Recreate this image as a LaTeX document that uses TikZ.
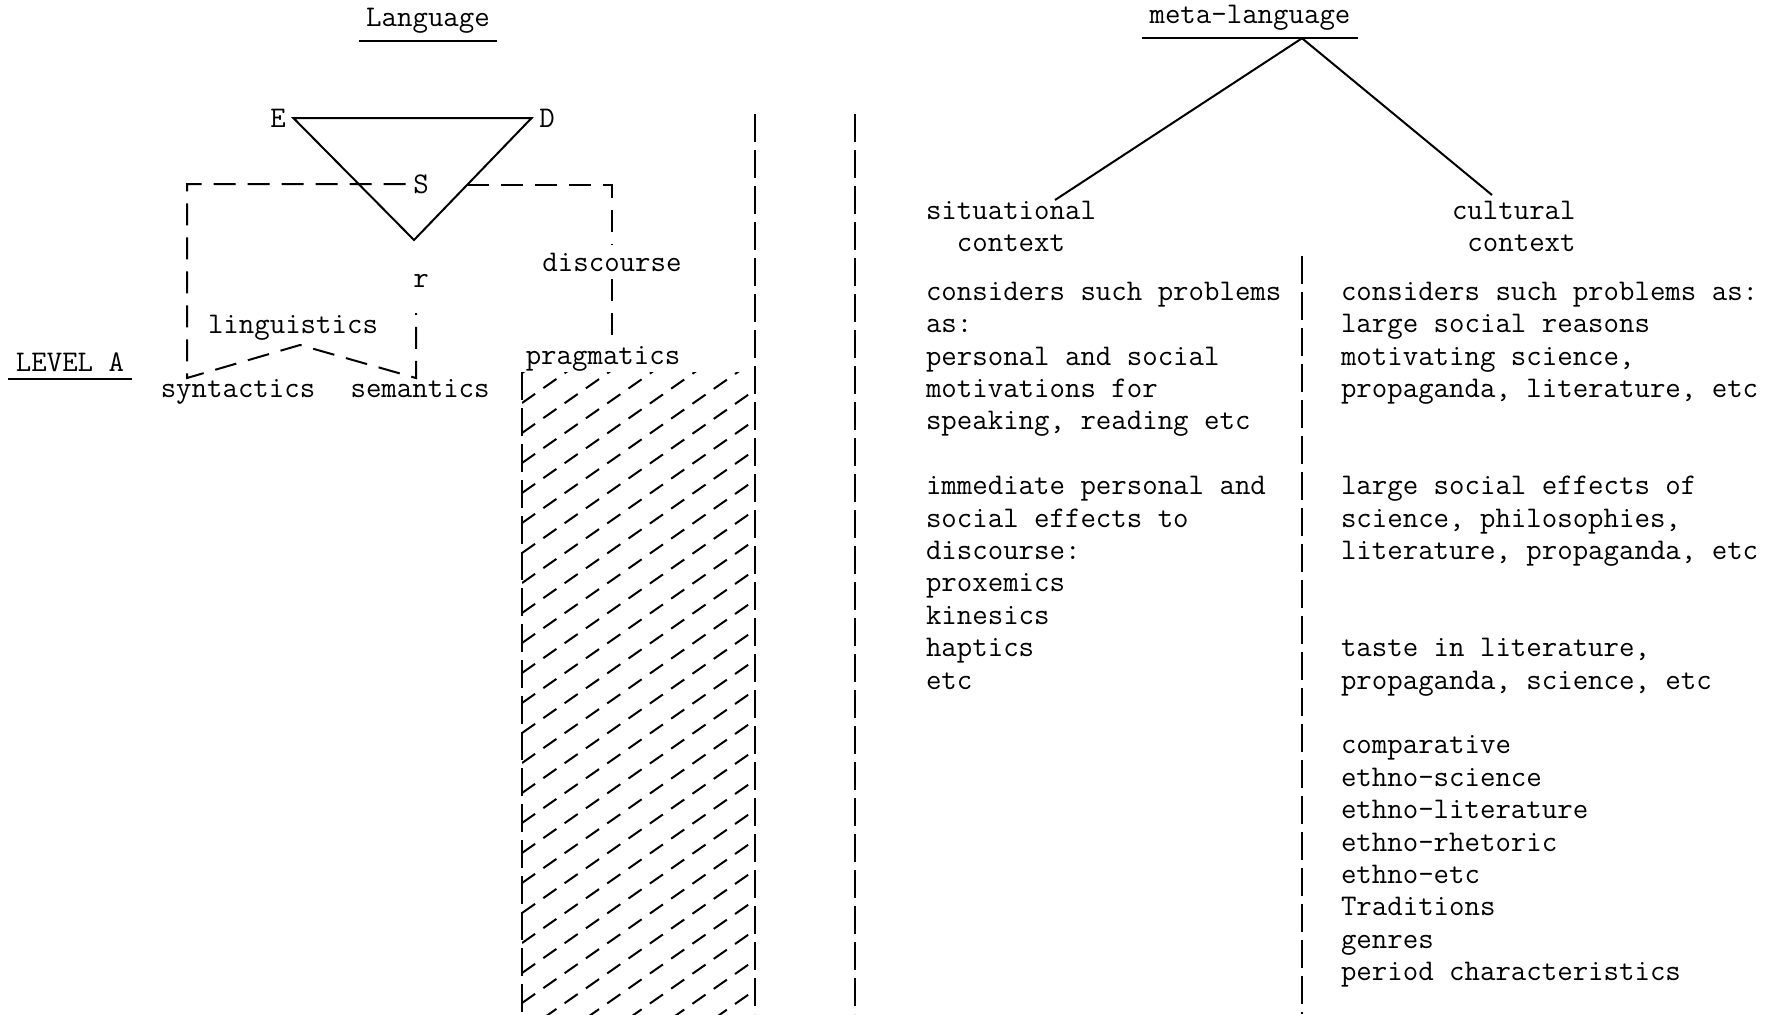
\documentclass[tikz,border=0pt]{standalone}
\usepackage{fontspec}
\usepackage{tikz}
\usetikzlibrary{positioning,calc}

\begin{document}
\begin{tikzpicture}[x=0.5pt,y=-0.5pt,line width=1pt,
  every node/.style={font=\ttfamily\fontsize{15pt}{16.2pt}\selectfont},
  boxline/.style={dash pattern=on 11pt off 6pt},
  colline/.style={dash pattern=on 14pt off 4pt},
  hatchline/.style={dash pattern=on 8pt off 5pt},
  textcol/.style={align=left,anchor=north west,inner sep=0pt}]
\useasboundingbox (0,0) rectangle (1782,1014);

% language side
\node (lang) at (428,21) {Language};
\node (levela) at (70,362) {LEVEL A};
\node (E) at (278,118) {E};
\node (D) at (547,118) {D};
\node (S) at (421,184) {S};
\coordinate (tip) at (414,240);
\coordinate (sr) at (467,185);
\node (r) at (421,281) {r};
\node (ling) at (293,328) {linguistics};
\node (syn) at (238,392) {syntactics};
\node (sem) [base right=10pt of syn] {semantics};
\node (disc) at (612,262) {discourse};
\node (prag) at (603,359) {pragmatics};
\coordinate (bl) at (187,378);
\coordinate (peak) at (300,345);
\coordinate (br) at (416,378);

\draw (lang.south west) -- (lang.south east);
\draw (levela.south west) -- (levela.south east);
\draw (E.east) -- (D.west) -- (tip) -- cycle;
\draw[boxline,shorten >=9pt] (S.west) -| (bl) -- (peak) -- (br) -- (br |- r.south);
\draw[boxline] (sr) -| (disc.north);
\draw[boxline] (disc.south) -- (disc.south |- prag.north);

% hatched pragmatics column
\coordinate (hatchtl) at (522,372);
\coordinate (hatchbr) at (755,1014);
\begin{scope}
  \clip (hatchtl) rectangle (hatchbr);
  \foreach \k in {-1,...,26}
    \draw[hatchline] (522,{403+30*\k}) -- ++(233,-163);
\end{scope}
\draw[colline] (hatchtl) -- (hatchtl |- hatchbr);
\coordinate (langsep) at (755,114);
\coordinate (metasep) at (855,114);
\draw[colline] (langsep) -- (langsep |- hatchbr);
\draw[colline] (metasep) -- (metasep |- hatchbr);

% meta-language side
\node (meta) at (1250,18) {meta-language};
\coordinate (septop) at (1302,256);
\coordinate (apex) at (septop |- meta.south);
\node[textcol] (situ) at (925,200) {situational\\\phantom{xx}context};
\node[textcol] (cult) at (1451,200) {cultural\\\phantom{x}context};
\draw (meta.south west) -- (meta.south east);
\draw (apex) -- ($(situ.north west)+(130,0)$);
\draw (apex) -- ($(cult.north west)+(41,-5)$);
\draw[colline] (septop) -- (septop |- hatchbr);

\node[textcol] (sitlist) at (925,281) {considers such problems\\as:\\personal and social\\motivations for\\speaking, reading etc\\[16.2pt]immediate personal and\\social effects to\\discourse:\\proxemics\\kinesics\\haptics\\etc};
\node[textcol] (cultlist) at (1340,281) {considers such problems as:\\large social reasons\\motivating science,\\propaganda, literature, etc\\[32.4pt]large social effects of\\science, philosophies,\\literature, propaganda, etc\\[32.4pt]taste in literature,\\propaganda, science, etc\\[16.2pt]comparative\\ethno-science\\ethno-literature\\ethno-rhetoric\\ethno-etc\\Traditions\\genres\\period characteristics};
\end{tikzpicture}
\end{document}
